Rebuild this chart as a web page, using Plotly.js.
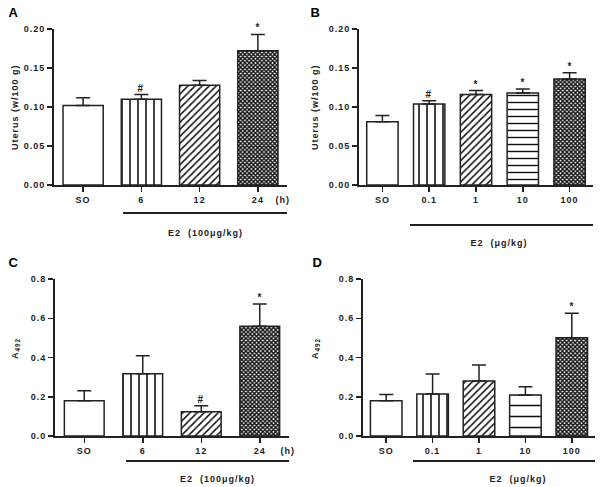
<!DOCTYPE html>
<html>
<head>
<meta charset="utf-8">
<script src="https://cdn.plot.ly/plotly-3.0.1.min.js"></script>
<style>
  html, body { margin: 0; padding: 0; background: #fff; }
  #chart { width: 600px; height: 487px; }
  #chart svg text { letter-spacing: 1px; }
</style>
</head>
<body>
<div id="chart"></div>
<script>
// ---------- data ----------
const catsTime = ['SO', '6', '12', '24'];
const catsDose = ['SO', '0.1', '1', '10', '100'];

const uterusTime = [0.102, 0.110, 0.128, 0.172];
const uterusTimeErr = [0.010, 0.006, 0.006, 0.021];
const uterusTimeSig = ['', '#', '', '*'];

const uterusDose = [0.081, 0.104, 0.116, 0.118, 0.136];
const uterusDoseErr = [0.008, 0.004, 0.005, 0.005, 0.008];
const uterusDoseSig = ['', '#', '*', '*', '*'];

const a492Time = [0.180, 0.317, 0.124, 0.559];
const a492TimeErr = [0.051, 0.092, 0.030, 0.114];
const a492TimeSig = ['', '', '#', '*'];

const a492Dose = [0.180, 0.214, 0.280, 0.209, 0.501];
const a492DoseErr = [0.032, 0.102, 0.082, 0.042, 0.124];
const a492DoseSig = ['', '', '', '', '*'];

// ---------- helpers ----------
const W = 600, H = 487;
const px = v => v / W;
const py = v => 1 - v / H;
const INK = '#222';
const FONT = 'Liberation Sans, Arial, sans-serif';

const patTime = {shape: ['', '|', '/', 'x'], size: [8, 8, 5, 3], solidity: [0.2, 0.2, 0.3, 0.7]};
const patDose = {shape: ['', '|', '/', '-', 'x'], size: [8, 8, 5, 7, 3], solidity: [0.2, 0.2, 0.3, 0.2, 0.7]};
const patDoseD = {shape: ['', '|', '/', '-', 'x'], size: [8, 8, 5, 11, 3], solidity: [0.2, 0.2, 0.3, 0.14, 0.7]};

function barTrace(cats, vals, errs, pat, xa, ya, width) {
  return {
    type: 'bar', x: cats, y: vals, xaxis: xa, yaxis: ya, width: width,
    marker: {
      color: '#fff',
      line: {color: INK, width: 1.5},
      pattern: {shape: pat.shape, size: pat.size, solidity: pat.solidity, fgcolor: '#111', bgcolor: '#fff', fillmode: 'replace'}
    },
    error_y: {type: 'data', symmetric: false, array: errs, arrayminus: errs.map(() => 0),
              color: INK, thickness: 1.5, width: 7},
    showlegend: false, hoverinfo: 'skip'
  };
}

// category axes: annotation x given as the category index
function sigAnnots(cats, vals, errs, sig, xa, ya) {
  const out = [];
  cats.forEach((c, i) => {
    if (!sig[i]) return;
    out.push({x: i, y: vals[i] + errs[i], xref: xa, yref: ya, text: sig[i], showarrow: false,
              yanchor: 'bottom', yshift: -1, font: {family: FONT, size: 10, color: INK, weight: 'bold'}});
  });
  return out;
}

const data = [
  barTrace(catsTime, uterusTime, uterusTimeErr, patTime, 'x', 'y', 0.69),
  barTrace(catsDose, uterusDose, uterusDoseErr, patDose, 'x2', 'y2', 0.67),
  barTrace(catsTime, a492Time, a492TimeErr, patTime, 'x3', 'y3', 0.68),
  barTrace(catsDose, a492Dose, a492DoseErr, patDoseD, 'x4', 'y4', 0.68)
];

const tickFont = {family: FONT, size: 9, color: INK, weight: 'bold'};
function xAxis(dom, anchor, n) {
  return {domain: dom, anchor: anchor, type: 'category', range: [-0.5, n - 0.5],
          showline: true, linewidth: 2, linecolor: INK, ticks: 'outside', ticklen: 5, tickwidth: 1.5,
          tickcolor: INK, showgrid: false, zeroline: false, tickfont: tickFont, fixedrange: true};
}
function yAxis(dom, anchor, range, dtick, fmt) {
  return {domain: dom, anchor: anchor, range: range, dtick: dtick, tickformat: fmt,
          showline: true, linewidth: 2, linecolor: INK, ticks: 'outside', ticklen: 5, tickwidth: 1.5,
          tickcolor: INK, showgrid: false, zeroline: false, tickfont: tickFont, fixedrange: true};
}

const textFont = {family: FONT, size: 9, color: INK, weight: 'bold'};
const letterFont = {family: FONT, size: 13, color: '#000', weight: 'bold'};

function paperText(text, x, y, font, extra) {
  return Object.assign({text: text, x: px(x), y: py(y), xref: 'paper', yref: 'paper', showarrow: false,
                        xanchor: 'center', yanchor: 'middle', font: font}, extra || {});
}

const annotations = [
  paperText('A', 14, 12, letterFont),
  paperText('B', 316, 12, letterFont),
  paperText('C', 14, 262, letterFont),
  paperText('D', 317, 262, letterFont),
  paperText('Uterus (w/100 g)', 15, 107, textFont, {textangle: -90}),
  paperText('Uterus (w/100 g)', 315, 107, textFont, {textangle: -90}),
  paperText('A<sub>492</sub>', 15, 348, textFont, {textangle: -90}),
  paperText('A<sub>492</sub>', 315, 348, textFont, {textangle: -90}),
  paperText('(h)', 283, 200, textFont),
  paperText('(h)', 288, 451, textFont),
  paperText('E2\u00a0\u00a0(100\u03bcg/kg)', 205, 233, textFont),
  paperText('E2\u00a0\u00a0(\u03bcg/kg)', 499, 243, textFont),
  paperText('E2\u00a0\u00a0(100\u03bcg/kg)', 217, 479, textFont),
  paperText('E2\u00a0\u00a0(\u03bcg/kg)', 518, 479, textFont)
].concat(
  sigAnnots(catsTime, uterusTime, uterusTimeErr, uterusTimeSig, 'x', 'y'),
  sigAnnots(catsDose, uterusDose, uterusDoseErr, uterusDoseSig, 'x2', 'y2'),
  sigAnnots(catsTime, a492Time, a492TimeErr, a492TimeSig, 'x3', 'y3'),
  sigAnnots(catsDose, a492Dose, a492DoseErr, a492DoseSig, 'x4', 'y4')
);

function bracket(x0, x1, y) {
  return {type: 'line', xref: 'paper', yref: 'paper', x0: px(x0), x1: px(x1), y0: py(y), y1: py(y),
          line: {color: INK, width: 2}};
}

const layout = {
  width: W, height: H, margin: {l: 0, r: 0, t: 0, b: 0},
  paper_bgcolor: '#fff', plot_bgcolor: 'rgba(0,0,0,0)',
  bargap: 0.3, showlegend: false,
  font: {family: FONT, color: INK},
  xaxis: xAxis([px(54), px(287)], 'y', 4),
  yaxis: yAxis([py(185), py(29)], 'x', [0, 0.2], 0.05, '.2f'),
  xaxis2: xAxis([px(359), px(593)], 'y2', 5),
  yaxis2: yAxis([py(185), py(29)], 'x2', [0, 0.2], 0.05, '.2f'),
  xaxis3: xAxis([px(55), px(289)], 'y3', 4),
  yaxis3: yAxis([py(436), py(279)], 'x3', [0, 0.8], 0.2, '.1f'),
  xaxis4: xAxis([px(363), px(595)], 'y4', 5),
  yaxis4: yAxis([py(436), py(279)], 'x4', [0, 0.8], 0.2, '.1f'),
  annotations: annotations,
  shapes: [bracket(123, 287, 213), bracket(410, 593, 225), bracket(126, 289, 461), bracket(413, 595, 461)]
};

Plotly.newPlot('chart', data, layout, {displayModeBar: false, staticPlot: true});
</script>
</body>
</html>
